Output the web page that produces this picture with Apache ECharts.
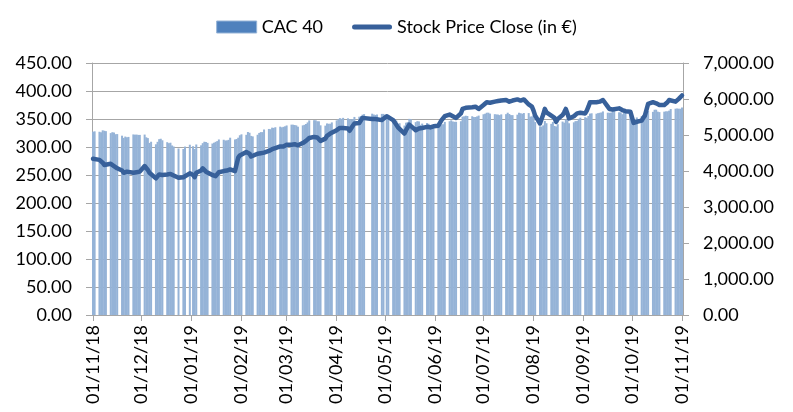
<!DOCTYPE html>
<html>
<head>
<meta charset="utf-8">
<script src="https://cdn.jsdelivr.net/npm/echarts@6/dist/echarts.min.js"></script>
<style>
  html, body { margin: 0; padding: 0; background: #fff; }
  #chart { width: 793px; height: 412px; }
</style>
</head>
<body>
<div id="chart"></div>
<script>
// trading days, 01/11/2018 - 01/11/2019
const dates = [
  '2018-11-01','2018-11-02','2018-11-05','2018-11-06','2018-11-07','2018-11-08','2018-11-09',
  '2018-11-12','2018-11-13','2018-11-14','2018-11-15','2018-11-16','2018-11-19','2018-11-20',
  '2018-11-21','2018-11-22','2018-11-23','2018-11-26','2018-11-27','2018-11-28','2018-11-29','2018-11-30',
  '2018-12-03','2018-12-04','2018-12-05','2018-12-06','2018-12-07','2018-12-10','2018-12-11',
  '2018-12-12','2018-12-13','2018-12-14','2018-12-17','2018-12-18','2018-12-19','2018-12-20',
  '2018-12-21','2018-12-24','2018-12-27','2018-12-28','2018-12-31',
  '2019-01-02','2019-01-03','2019-01-04','2019-01-07','2019-01-08','2019-01-09','2019-01-10',
  '2019-01-11','2019-01-14','2019-01-15','2019-01-16','2019-01-17','2019-01-18','2019-01-21',
  '2019-01-22','2019-01-23','2019-01-24','2019-01-25','2019-01-28','2019-01-29','2019-01-30','2019-01-31',
  '2019-02-01','2019-02-04','2019-02-05','2019-02-06','2019-02-07','2019-02-08','2019-02-11',
  '2019-02-12','2019-02-13','2019-02-14','2019-02-15','2019-02-18','2019-02-19','2019-02-20',
  '2019-02-21','2019-02-22','2019-02-25','2019-02-26','2019-02-27','2019-02-28',
  '2019-03-01','2019-03-04','2019-03-05','2019-03-06','2019-03-07','2019-03-08','2019-03-11',
  '2019-03-12','2019-03-13','2019-03-14','2019-03-15','2019-03-18','2019-03-19','2019-03-20',
  '2019-03-21','2019-03-22','2019-03-25','2019-03-26','2019-03-27','2019-03-28','2019-03-29',
  '2019-04-01','2019-04-02','2019-04-03','2019-04-04','2019-04-05','2019-04-08','2019-04-09',
  '2019-04-10','2019-04-11','2019-04-12','2019-04-15','2019-04-16','2019-04-17','2019-04-18',
  '2019-04-23','2019-04-24','2019-04-25','2019-04-26','2019-04-29','2019-04-30',
  '2019-05-02','2019-05-03','2019-05-06','2019-05-07','2019-05-08','2019-05-09','2019-05-10',
  '2019-05-13','2019-05-14','2019-05-15','2019-05-16','2019-05-17','2019-05-20','2019-05-21',
  '2019-05-22','2019-05-23','2019-05-24','2019-05-27','2019-05-28','2019-05-29','2019-05-30','2019-05-31',
  '2019-06-03','2019-06-04','2019-06-05','2019-06-06','2019-06-07','2019-06-10','2019-06-11',
  '2019-06-12','2019-06-13','2019-06-14','2019-06-17','2019-06-18','2019-06-19','2019-06-20',
  '2019-06-21','2019-06-24','2019-06-25','2019-06-26','2019-06-27','2019-06-28',
  '2019-07-01','2019-07-02','2019-07-03','2019-07-04','2019-07-05','2019-07-08','2019-07-09',
  '2019-07-10','2019-07-11','2019-07-12','2019-07-15','2019-07-16','2019-07-17','2019-07-18',
  '2019-07-19','2019-07-22','2019-07-23','2019-07-24','2019-07-25','2019-07-26','2019-07-29',
  '2019-07-30','2019-07-31',
  '2019-08-01','2019-08-02','2019-08-05','2019-08-06','2019-08-07','2019-08-08','2019-08-09',
  '2019-08-12','2019-08-13','2019-08-14','2019-08-15','2019-08-16','2019-08-19','2019-08-20',
  '2019-08-21','2019-08-22','2019-08-23','2019-08-26','2019-08-27','2019-08-28','2019-08-29','2019-08-30',
  '2019-09-02','2019-09-03','2019-09-04','2019-09-05','2019-09-06','2019-09-09','2019-09-10',
  '2019-09-11','2019-09-12','2019-09-13','2019-09-16','2019-09-17','2019-09-18','2019-09-19',
  '2019-09-20','2019-09-23','2019-09-24','2019-09-25','2019-09-26','2019-09-27','2019-09-30',
  '2019-10-01','2019-10-02','2019-10-03','2019-10-04','2019-10-07','2019-10-08','2019-10-09',
  '2019-10-10','2019-10-11','2019-10-14','2019-10-15','2019-10-16','2019-10-17','2019-10-18',
  '2019-10-21','2019-10-22','2019-10-23','2019-10-24','2019-10-25','2019-10-28','2019-10-29',
  '2019-10-30','2019-10-31',
  '2019-11-01'
]

// CAC 40 close (right axis)
const cac40 = [
  5093, 5102, 5090, 5075, 5130, 5118, 5107, 5053, 5078, 5068, 5022, 5025, 4981, 4920, 4956, 4937, 4947, 5016, 5008, 5012, 5003, 5003,
  5012, 4936, 4914, 4780, 4813, 4742, 4810, 4884, 4896, 4853, 4800, 4773, 4786, 4709, 4680, 4626, 4611, 4678, 4730,
  4689, 4611, 4737, 4714, 4773, 4813, 4806, 4782, 4763, 4786, 4810, 4831, 4876, 4868, 4848, 4850, 4865, 4925, 4876, 4889, 4925, 4993,
  5019, 5005, 5084, 5063, 4975, 4961, 5007, 5057, 5080, 5080, 5153, 5168, 5161, 5204, 5197, 5216, 5232, 5213, 5227, 5241,
  5265, 5288, 5286, 5277, 5267, 5231, 5267, 5282, 5306, 5349, 5405, 5411, 5409, 5382, 5380, 5269, 5260, 5321, 5313, 5312, 5350,
  5406, 5436, 5468, 5450, 5476, 5463, 5438, 5434, 5443, 5502, 5508, 5528, 5565, 5580, 5592, 5569, 5558, 5569, 5586, 5586,
  5528, 5548, 5463, 5395, 5399, 5311, 5327, 5262, 5342, 5358, 5448, 5438, 5358, 5385, 5377, 5281, 5317, 5333, 5312, 5222, 5265, 5208,
  5247, 5293, 5291, 5300, 5364, 5382, 5407, 5375, 5367, 5367, 5382, 5510, 5518, 5535, 5528, 5521, 5498, 5500, 5516, 5539,
  5576, 5591, 5618, 5620, 5594, 5578, 5572, 5567, 5552, 5573, 5579, 5619, 5583, 5552, 5552, 5565, 5618, 5605, 5590, 5610, 5609, 5511, 5518,
  5557, 5359, 5241, 5234, 5267, 5388, 5327, 5310, 5364, 5251, 5236, 5300, 5373, 5343, 5435, 5406, 5326, 5351, 5385, 5387, 5449, 5480,
  5493, 5479, 5530, 5594, 5603, 5592, 5607, 5617, 5626, 5655, 5620, 5617, 5621, 5659, 5690, 5630, 5628, 5578, 5620, 5640, 5678,
  5597, 5422, 5438, 5488, 5521, 5471, 5500, 5569, 5665, 5643, 5702, 5703, 5648, 5636, 5648, 5657, 5658, 5676, 5722, 5731, 5736, 5730, 5729,
  5762
]

// stock price close in € (left axis)
const stockClose = [
  279, 278, 277, 276, 272, 268, 268, 270, 268, 266, 263, 262, 258, 254, 255, 256, 255, 254, 256, 255, 254, 256,
  266, 264, 259, 254, 253, 244, 246, 251, 252, 250, 251, 250, 252, 250, 249, 245, 246, 248, 253,
  250, 246, 254, 258, 262, 260, 256, 253, 250, 249, 248, 250, 255, 257, 256, 258, 259, 260, 257, 258, 281, 285,
  287, 291, 292, 288, 283, 284, 288, 290, 289, 290, 290, 293, 294, 296, 297, 298, 301, 302, 301, 303,
  304, 304, 305, 305, 304, 303, 307, 309, 311, 313, 316, 318, 318, 317, 318, 311, 315, 320, 321, 324, 327,
  330, 332, 334, 334, 334, 333, 329, 327, 338, 342, 343, 345, 352, 355, 350, 351, 350, 349, 348, 350,
  355, 356, 348, 344, 341, 335, 333, 324, 330, 335, 340, 342, 330, 331, 333, 331, 334, 336, 335, 335, 336, 337,
  338, 343, 348, 351, 355, 358, 357, 355, 352, 352, 360, 368, 369, 370, 370, 371, 372, 372, 370, 368,
  375, 378, 380, 380, 379, 381, 382, 382, 381, 383, 384, 383, 381, 382, 383, 385, 384, 383, 384, 385, 376, 374, 372,
  365, 356, 342, 345, 358, 368, 362, 356, 358, 352, 345, 350, 357, 362, 368, 360, 351, 355, 358, 360, 360, 361,
  360, 365, 372, 380, 381, 380, 378, 381, 382, 384, 372, 368, 366, 367, 366, 369, 368, 366, 363, 364, 363,
  362, 343, 342, 345, 347, 352, 356, 358, 377, 380, 380, 378, 376, 375, 375, 376, 380, 384, 385, 381, 383, 386, 388,
  392
]

const leftTicks = { min: 0, max: 450, interval: 50 }
const rightTicks = { min: 0, max: 7000, interval: 1000 }

const DAY = 24 * 3600 * 1000
const font = 'Lato, "Open Sans", sans-serif'
const gridColor = '#a6a6a6'
const lineColor = '#37609a'

const pad = (n) => (n < 10 ? '0' + n : '' + n)
const fmtDate = (v) => {
  const d = new Date(v)
  return pad(d.getDate()) + '/' + pad(d.getMonth() + 1) + '/' + pad(d.getFullYear() % 100)
}

const chart = echarts.init(document.getElementById('chart'), null, { renderer: 'canvas' })
chart.setOption({
  animation: false,
  textStyle: { fontFamily: font },
  legend: {
    top: 13,
    left: 'center',
    itemWidth: 40,
    itemHeight: 12,
    itemGap: 29,
    textStyle: { fontSize: 18, color: '#000', fontFamily: font },
    data: [
      { name: 'CAC 40', icon: 'rect', itemStyle: { color: '#4f81bd', borderColor: '#95b3d7', borderWidth: 1 } },
      {
        name: 'Stock Price Close (in €)',
        icon: 'path://M2.5,0 L37.5,0 A2.5,2.5 0 0 1 37.5,5 L2.5,5 A2.5,2.5 0 0 1 2.5,0 Z',
        itemStyle: { color: lineColor, borderWidth: 0 }
      }
    ]
  },
  grid: { left: 92, right: 110, top: 63, bottom: 97, containLabel: false },
  xAxis: {
    type: 'time',
    min: '2018-11-01',
    max: '2019-11-01',
    minInterval: 28 * DAY,
    maxInterval: 31 * DAY,
    splitLine: { show: false },
    axisLine: { show: true, lineStyle: { color: gridColor } },
    axisTick: { show: true, length: 6, lineStyle: { color: gridColor } },
    axisLabel: {
      rotate: 90,
      margin: 10,
      fontSize: 18,
      color: '#000',
      fontFamily: font,
      hideOverlap: false,
      formatter: fmtDate
    }
  },
  yAxis: [
    {
      type: 'value',
      position: 'left',
      ...leftTicks,
      axisLine: { show: true, lineStyle: { color: gridColor } },
      axisTick: { show: true, length: 6, lineStyle: { color: gridColor } },
      splitLine: { show: true, lineStyle: { color: gridColor } },
      axisLabel: { margin: 20, fontSize: 18, color: '#000', fontFamily: font, formatter: (v) => v.toFixed(2) }
    },
    {
      type: 'value',
      position: 'right',
      ...rightTicks,
      axisLine: { show: true, lineStyle: { color: gridColor } },
      axisTick: { show: true, length: 6, lineStyle: { color: gridColor } },
      splitLine: { show: false },
      axisLabel: {
        margin: 20, fontSize: 18, color: '#000', fontFamily: font,
        formatter: (v) => v.toLocaleString('en-US', { minimumFractionDigits: 2, maximumFractionDigits: 2 })
      }
    }
  ],
  series: [
    {
      name: 'CAC 40',
      type: 'bar',
      yAxisIndex: 1,
      barWidth: 2,
      itemStyle: { color: '#95b3d7' },
      data: dates.map((d, i) => [d, cac40[i]])
    },
    {
      name: 'Stock Price Close (in €)',
      type: 'line',
      yAxisIndex: 0,
      symbol: 'none',
      showSymbol: false,
      lineStyle: { color: lineColor, width: 4.5, cap: 'round', join: 'round' },
      itemStyle: { color: lineColor },
      data: dates.map((d, i) => [d, stockClose[i]])
    }
  ]
})
</script>
</body>
</html>
